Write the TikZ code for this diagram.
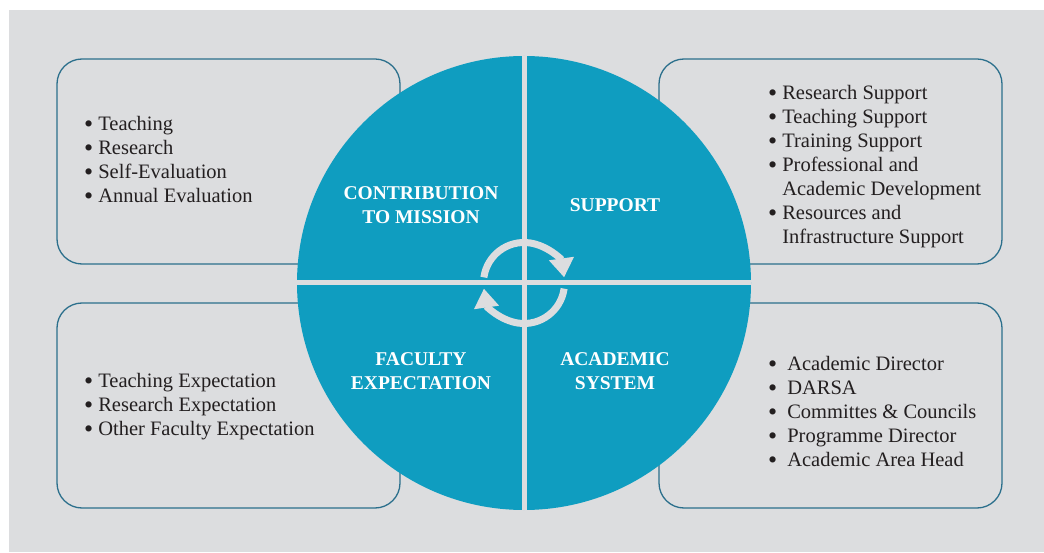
\documentclass[tikz,border=0pt]{standalone}
\usepackage{fontspec}
\setmainfont{Liberation Serif}
\usetikzlibrary{shapes,positioning,arrows.meta}

\definecolor{panel}{HTML}{DCDDDF}
\definecolor{hubblue}{HTML}{0F9DC0}
\definecolor{frame}{HTML}{2B6F8C}
\definecolor{ink}{HTML}{231F20}

\newcommand{\bul}{\raisebox{-1.5pt}{\fontsize{26}{24}\selectfont\textbullet}}

\begin{document}
\begin{tikzpicture}
            [
            x=1pt, y=1pt,
            box/.style={draw=frame, line width=1.3pt, rounded corners=25pt,
                minimum width=343pt, minimum height=205pt, inner sep=0pt},
            list/.style={anchor=west, inner sep=0pt, text=ink,
                font=\fontsize{20.5}{24}\selectfont},
            head/.style={align=center, text=white,
                font=\fontsize{19.5}{24}\selectfont\bfseries},
            gap/.style={draw=panel, line width=5pt},
            cycle arrow/.style={draw=panel, line width=7pt,
                -{Triangle[width=24pt,length=19pt]}}
            ]

            \useasboundingbox (0,0) rectangle (1044,552);
            \fill [panel] (9,0) rectangle (1044,542);

            % Outer boxes
            \node (tl) [box] at (228.5,390.5) {};
            \node (tr) [box] at (830.5,390.5) {};
            \node (bl) [box] at (228.5,146.5) {};
            \node (br) [box] at (830.5,146.5) {};

            % Central wheel
            \node (hub) [circle, fill=hubblue, minimum size=454pt,
                inner sep=0pt, outer sep=0pt] at (524,269) {};
            \draw [gap] (hub.north) -- (hub.south);
            \draw [gap] (hub.west) -- (hub.east);

            \draw [cycle arrow] (hub.center) ++(172:40.5)
                arc[start angle=172, end angle=8, radius=40.5];
            \draw [cycle arrow] (hub.center) ++(-8:40.5)
                arc[start angle=-8, end angle=-172, radius=40.5];

            \node (mission) [head] at (421,346.5) {CONTRIBUTION\\TO MISSION};
            \node (support) [head] at (615,347) {SUPPORT};
            \node (faculty) [head] at (421,180.5) {FACULTY\\EXPECTATION};
            \node (system) [head] at (615,180.5) {ACADEMIC\\SYSTEM};

            % Lists
            \node (tllist) [list] at (84,390) {\begin{tabular}{@{}l@{\hspace{5pt}}l@{}}
                \bul & Teaching\\
                \bul & Research\\
                \bul & Self-Evaluation\\
                \bul & Annual Evaluation
            \end{tabular}};
            \node (trlist) [list] at (768,385) {\begin{tabular}{@{}l@{\hspace{5pt}}l@{}}
                \bul & Research Support\\
                \bul & Teaching Support\\
                \bul & Training Support\\
                \bul & Professional and\\
                     & Academic Development\\
                \bul & Resources and\\
                     & Infrastructure Support
            \end{tabular}};
            \node (bllist) [list] at (84,145) {\begin{tabular}{@{}l@{\hspace{5pt}}l@{}}
                \bul & Teaching Expectation\\
                \bul & Research Expectation\\
                \bul & Other Faculty Expectation
            \end{tabular}};
            \node (brlist) [list] at (768,138) {\begin{tabular}{@{}l@{\hspace{10pt}}l@{}}
                \bul & Academic Director\\
                \bul & DARSA\\
                \bul & Committes \& Councils\\
                \bul & Programme Director\\
                \bul & Academic Area Head
            \end{tabular}};

        \end{tikzpicture}
\end{document}
